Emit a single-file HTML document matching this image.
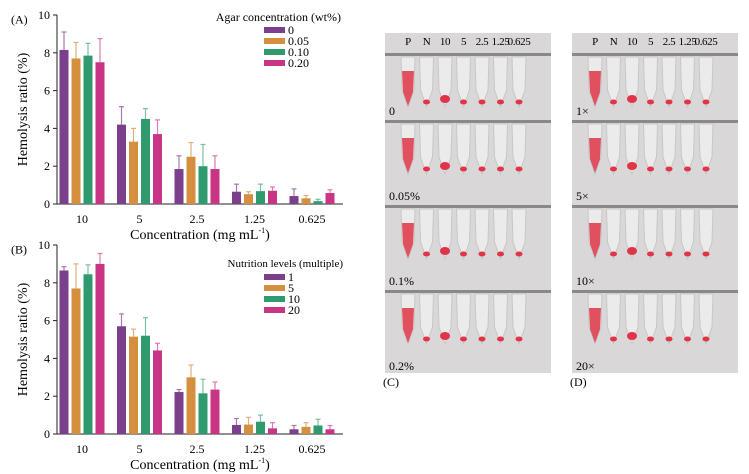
<!DOCTYPE html>
<html><head><meta charset="utf-8"><style>
body{margin:0;background:#fff;width:749px;height:474px;overflow:hidden;font-family:"Liberation Serif",serif}
svg{position:absolute;left:0;top:0;font-family:"Liberation Serif",serif}
</style></head><body>
<svg id="s" width="749" height="474" xmlns="http://www.w3.org/2000/svg"></svg>
<script>
const categories=["10","5","2.5","1.25","0.625"];
const yTicks=[0,2,4,6,8,10];
const aLabels=["0","0.05","0.10","0.20"];
const aVals=[[8.15,4.2,1.85,0.65,0.42],[7.7,3.3,2.5,0.52,0.3],[7.85,4.5,2.0,0.68,0.15],[7.5,3.7,1.85,0.7,0.58]];
const aTops=[[9.1,5.15,2.55,1.05,0.8],[8.55,4.0,3.25,0.65,0.45],[8.5,5.05,3.15,1.05,0.25],[8.75,4.45,2.55,0.9,0.75]];
const bLabels=["1","5","10","20"];
const bVals=[[8.65,5.7,2.22,0.48,0.25],[7.7,5.15,3.0,0.5,0.38],[8.45,5.2,2.15,0.65,0.45],[9.0,4.42,2.35,0.3,0.25]];
const bTops=[[8.85,6.35,2.35,0.82,0.45],[9.0,5.55,3.65,0.88,0.6],[8.95,6.15,2.9,1.0,0.78],[9.55,4.8,2.75,0.6,0.45]];
const colors=["#7b3f8c","#d4903f","#2f9a6e","#c93585"];
const errColors=["#a57ab0","#e0b078","#78c0a0","#dc7ab0"];
const S=document.getElementById('s');const NS="http://www.w3.org/2000/svg";
function el(t,a,txt,parent){const e=document.createElementNS(NS,t);for(const k in a)e.setAttribute(k,a[k]);if(txt!==undefined)e.textContent=txt;(parent||S).appendChild(e);return e;}
function chart(y0,vals,tops,labels,tag,nm){
  const ys=v=>y0-v*18.9;const xs=(g,i)=>64+g*57.5+i*12;
  let e=el('line',{x1:57,y1:ys(0),x2:343,y2:ys(0),stroke:'#222','stroke-width':1});
  
  e=el('line',{x1:57,y1:ys(0),x2:57,y2:ys(10),stroke:'#222','stroke-width':1});
  
  yTicks.forEach(t=>{el('line',{x1:53,x2:57,y1:ys(t),y2:ys(t),stroke:'#222'});
    e=el('text',{x:50,y:ys(t)+4,'text-anchor':'end','font-size':12},t);
    });
  categories.forEach((c,g)=>{e=el('text',{x:xs(g,1.5),y:ys(0)+19,'text-anchor':'middle','font-size':12},c);
    });
  vals.forEach((ser,i)=>ser.forEach((v,g)=>{const cx=xs(g,i);
    el('line',{x1:cx,x2:cx,y1:ys(v),y2:ys(tops[i][g]),stroke:errColors[i],'stroke-width':1.2});
    el('line',{x1:cx-2.5,x2:cx+2.5,y1:ys(tops[i][g]),y2:ys(tops[i][g]),stroke:errColors[i],'stroke-width':1.2});
    const r=el('rect',{x:cx-4.5,y:ys(v),width:9,height:v*18.9,fill:colors[i]});
    
    }));
  e=el('text',{x:200,y:ys(0)+35,'text-anchor':'middle','font-size':14});
  
  el('tspan',{},'Concentration (mg mL',e);el('tspan',{'font-size':8,dy:-6},'-1',e);el('tspan',{dy:6},')',e);
  e=el('text',{x:0,y:0,'text-anchor':'middle','font-size':14,transform:`translate(27,${ys(5)}) rotate(-90)`},'Hemolysis ratio (%)');
  
  e=el('text',{x:11,y:ys(9.55),'font-size':12},tag);
  
}
chart(204,aVals,aTops,aLabels,'(A)','a');
chart(434,bVals,bTops,bLabels,'(B)','b');
let t=el('text',{x:341,y:21,'text-anchor':'end','font-size':12},'Agar concentration (wt%)');

aLabels.forEach((l,i)=>{const y=30+i*11;el('rect',{x:264,y:y-3,width:21,height:6,fill:colors[i]});
  const e=el('text',{x:288,y:y+4,'font-size':12},l);});
t=el('text',{x:343,y:267,'text-anchor':'end','font-size':11},'Nutrition levels (multiple)');

bLabels.forEach((l,i)=>{const y=277+i*11;el('rect',{x:264,y:y-3,width:21,height:6,fill:colors[i]});
  const e=el('text',{x:288,y:y+4,'font-size':12},l);});
const tubeLabels=["P","N","10","5","2.5","1.25","0.625"];
const cLab=["0","0.05%","0.1%","0.2%"],dLab=["1×","5×","10×","20×"];
function photos(x0,labs,nm,tag){
  const w=166;
  for(let r=0;r<4;r++){const y=33+r*85;
    const g=el('rect',{x:x0,y:y,width:w,height:85,fill:'#d9d7d7'});
    
    el('rect',{x:x0,y:y+(r==0?20:2),width:w,height:3,fill:'#555',opacity:0.6});
    for(let k=0;k<7;k++){const cx=x0+23+k*18.5,ty=y+(r==0?24:6);
      el('path',{d:`M${cx-7},${ty} L${cx+7},${ty} L${cx+6},${ty+33} L${cx},${ty+50} L${cx-6},${ty+33} Z`,fill:'#ecebeb',stroke:'#c8c6c6'});
      if(k==0)el('path',{d:`M${cx-6},${ty+14} L${cx+6},${ty+14} L${cx+5},${ty+35} L${cx},${ty+49} L${cx-5},${ty+35} Z`,fill:'#e0505e'});
      else el('ellipse',{cx:cx,cy:ty+45-(k==2?3:0),rx:k==2?5:3.5,ry:k==2?4:2.5,fill:'#e03548'});}
    const e=el('text',{x:x0+4,y:y+82,'font-size':12},labs[r]);
    }
  tubeLabels.forEach((l,k)=>{const e=el('text',{x:x0+23+k*18.5,y:45,'text-anchor':'middle','font-size':11,'letter-spacing':-0.4},l);
    });
  const e=el('text',{x:x0-2,y:386,'font-size':12},tag);
  
}
photos(385,cLab,'c','(C)');
photos(572,dLab,'d','(D)');
</script>
</body></html>
